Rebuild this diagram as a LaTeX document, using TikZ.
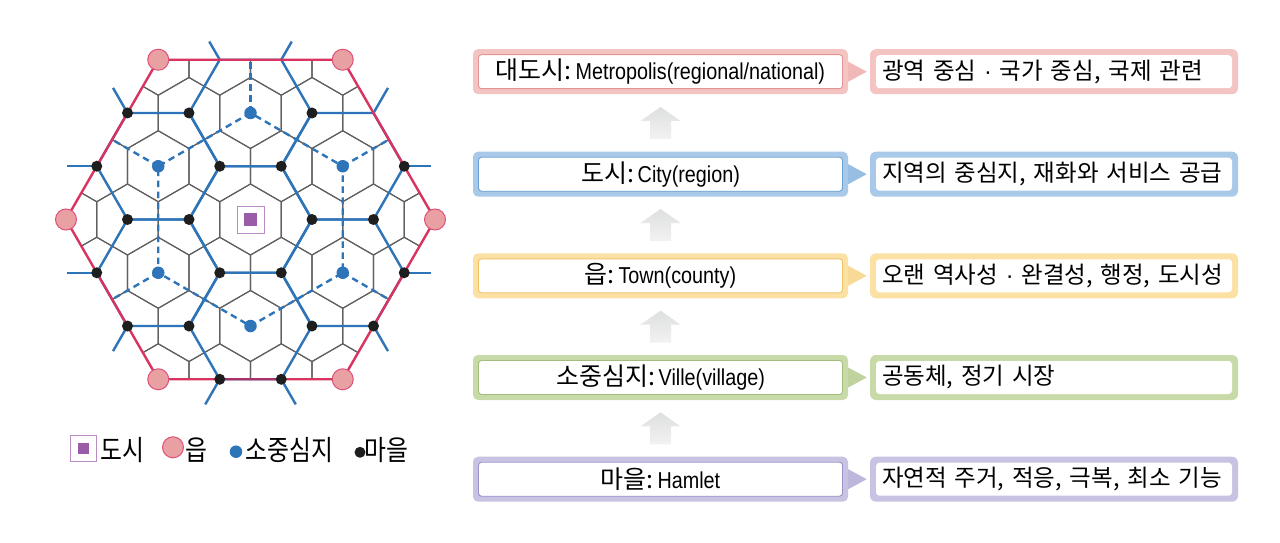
\documentclass[tikz,border=0pt]{standalone}
\usepackage{fontspec}
\setmainfont{Liberation Sans}
\newfontfamily\kr{Noto Sans CJK KR}
\newfontfamily\krr{Noto Sans CJK KR}[WordSpace=2.3]
\newfontfamily\krl{Noto Sans CJK KR}[FakeStretch=0.85]
\newfontfamily\en{Liberation Sans}[FakeStretch=0.86]
\newfontfamily\dotf{Liberation Sans}
\usetikzlibrary{calc}
\definecolor{hexred}{HTML}{D8345F}
\definecolor{hexdark}{HTML}{A8336A}
\definecolor{pinkfill}{HTML}{E9A0A3}
\definecolor{blueln}{HTML}{2E74B8}
\definecolor{greyln}{HTML}{606060}
\definecolor{dotblk}{HTML}{1E1E1E}
\definecolor{cityfill}{HTML}{9A5CA6}
\definecolor{cityframe}{HTML}{BA8EC4}
\definecolor{pkband}{HTML}{F4C4C2}
\definecolor{pkline}{HTML}{E39595}
\definecolor{blband}{HTML}{A9C9E9}
\definecolor{blline}{HTML}{6A9FD4}
\definecolor{ylband}{HTML}{FCE1A5}
\definecolor{ylline}{HTML}{F0C26A}
\definecolor{grband}{HTML}{C9DAA9}
\definecolor{grline}{HTML}{A3BD7C}
\definecolor{puband}{HTML}{C8C3E2}
\definecolor{puline}{HTML}{9B92C9}
\definecolor{arrtop}{HTML}{DEDFDF}
\definecolor{arrbot}{HTML}{F2F2F2}
\newcommand{\mdot}{{\dotf\fontsize{23.5}{27}\selectfont ·}}
\begin{document}
\begin{tikzpicture}[x=1pt,y=-1pt,
  greyline/.style={draw=greyln,line width=1.1pt,line join=round},
  blueline/.style={draw=blueln,line width=2.4pt,line join=round},
  bluedash/.style={blueline,dash pattern=on 6.5pt off 4.5pt},
  redline/.style={draw=hexred,line width=2.4pt,line join=round},
  bdot/.style={circle,fill=dotblk,minimum size=11pt,inner sep=0pt},
  udot/.style={circle,fill=blueln,minimum size=12.5pt,inner sep=0pt},
  rdot/.style={circle,fill=pinkfill,draw=hexred!85,line width=1pt,minimum size=21pt,inner sep=0pt},
  lgtext/.style={anchor=west,inner sep=0pt,font=\krl\fontsize{28}{32}\selectfont},
  lbox/.style={rectangle,rounded corners=5pt,minimum width=375pt,minimum height=45pt,inner sep=0pt,
    fill=#1band,
    path picture={\draw[#1line,line width=0.9pt,fill=white,rounded corners=3pt]
      ([shift={(5.5pt,-5.5pt)}]path picture bounding box.north west) rectangle
      ([shift={(-5.5pt,5.5pt)}]path picture bounding box.south east);}},
  rbox/.style={rectangle,rounded corners=6pt,minimum height=45pt,text width=344pt,inner xsep=12pt,inner ysep=0pt,
    align=left,fill=#1band,font=\krr\fontsize{23.5}{27}\selectfont,
    path picture={\fill[white,rounded corners=3.5pt]
      ([shift={(6pt,-6pt)}]path picture bounding box.north west) rectangle
      ([shift={(-6pt,6pt)}]path picture bounding box.south east);}},
]
\useasboundingbox (0,0) rectangle (1280,543);
\fill[white] (0,0) rectangle (1280,543);

% ---------------- hexagonal diagram ----------------
\begin{scope}[shift={(250.5,219.5)},yscale=-1]
  \coordinate (O) at (0,0);
  \foreach \a in {0,60,...,300} {\coordinate (R\a) at (\a:184.5);}
  \foreach \a in {30,90,...,330} {\coordinate (U\a) at (\a:106.52);}
  \coordinate (E1) at (153.75,53.26);
  \coordinate (E2) at (123,106.52);
  \coordinate (E3) at (30.75,159.78);
  \coordinate (E4) at (-30.75,159.78);
  \coordinate (E5) at (-123,106.52);
  \coordinate (E6) at (-153.75,53.26);
  \coordinate (E7) at (-153.75,-53.26);
  \coordinate (E8) at (-123,-106.52);
  \coordinate (E9) at (-30.75,-159.78);
  \coordinate (E10) at (30.75,-159.78);
  \coordinate (E11) at (123,-106.52);
  \coordinate (E12) at (153.75,-53.26);
  % grey market areas
  \begin{scope}
    \clip (R0) -- (R60) -- (R120) -- (R180) -- (R240) -- (R300) -- cycle;
    \foreach \i in {-4,...,4}{\foreach \j in {-4,...,4}{
      \draw[greyline] ({61.5*(\i+0.5*\j)},{53.26*\j}) +(30:35.51) -- +(90:35.51) -- +(150:35.51)
        -- +(210:35.51) -- +(270:35.51) -- +(330:35.51) -- cycle;
    }}
  \end{scope}
  % dashed
  \draw[bluedash] (U90) -- (U150) -- (U210) -- (U270) -- (U330) -- (U30) -- cycle;
  \foreach \a in {30,90,150,210,330} {\draw[bluedash] (U\a) -- (\a:159.78);}
  % blue network
  \foreach \c in {O,U30,U90,U150,U210,U270,U330} {
    \draw[blueline] (\c) +(0:61.5) -- +(60:61.5) -- +(120:61.5) -- +(180:61.5) -- +(240:61.5) -- +(300:61.5) -- cycle;
  }
  \draw[blueline] (E1) -- ++(0:27);
  \draw[blueline] (E2) -- ++(60:29);
  \draw[blueline] (E3) -- ++(60:21);
  \draw[blueline] (E4) -- ++(120:21);
  \draw[blueline] (E5) -- ++(120:29);
  \draw[blueline] (E6) -- ++(180:30);
  \draw[blueline] (E7) -- ++(180:30);
  \draw[blueline] (E8) -- ++(240:29);
  \draw[blueline] (E9) -- ++(240:29);
  \draw[blueline] (E10) -- ++(300:29);
  \draw[blueline] (E11) -- ++(300:29);
  \draw[blueline] (E12) -- ++(0:27);
  % red boundary
  \draw[redline] (R0) -- (R60) -- (R120) -- (R180) -- (R240) -- (R300) -- cycle;
  \draw[draw=hexdark,line width=2.4pt] (E9) -- (E10);
  \foreach \a in {0,60,...,300} {\node[rdot] (r\a) at (R\a) {};}
  % villages
  \foreach \a in {0,60,...,300} {
    \node[bdot] (ka\a) at (\a:61.5) {};
    \node[bdot] (kb\a) at (\a:123) {};
  }
  \foreach \e in {E1,E5,E6,E7,E8,E9,E10,E11,E12} {\node[bdot] (d\e) at (\e) {};}
  % small centres
  \foreach \a in {30,90,...,330} {\node[udot] (u\a) at (U\a) {};}
  % city
  \node[draw=cityframe,line width=1pt,minimum size=27pt,inner sep=0pt] (cityfr) at (O) {};
  \node[fill=cityfill,minimum size=12.5pt,inner sep=0pt] (city) at (O) {};
\end{scope}

% ---------------- legend ----------------
\node[draw=cityframe,line width=1pt,minimum size=26pt,inner sep=0pt] (lgfr) at (83.7,448.3) {};
\node[fill=cityfill,minimum size=11pt,inner sep=0pt] (lgcity) at (83.7,448.3) {};
\node[lgtext] (lgt1) at (100,450.3) {도시};
\node[rdot] (lgr) at (173,447.3) {};
\node[lgtext] (lgt2) at (185,450.3) {읍};
\node[udot] (lgu) at (236,451.7) {};
\node[lgtext] (lgt3) at (245.5,450.3) {소중심지};
\node[bdot] (lgb) at (360,452.3) {};
\node[lgtext] (lgt4) at (364.5,450.3) {마을};

% ---------------- hierarchy boxes ----------------
\node[lbox=pk] (L1) at (660.5,71.7) {{\kr\fontsize{25}{29}\selectfont 대도시:} {\en\fontsize{23}{27}\selectfont Metropolis(regional/national)}};
\node[lbox=bl] (L2) at (660.5,174.2) {{\kr\fontsize{25}{29}\selectfont 도시:} {\en\fontsize{23}{27}\selectfont City(region)}};
\node[lbox=yl] (L3) at (660.5,275.8) {{\kr\fontsize{25}{29}\selectfont 읍:} {\en\fontsize{23}{27}\selectfont Town(county)}};
\node[lbox=gr] (L4) at (660.5,377.5) {{\kr\fontsize{25}{29}\selectfont 소중심지:} {\en\fontsize{23}{27}\selectfont Ville(village)}};
\node[lbox=pu] (L5) at (660.5,479.2) {{\kr\fontsize{25}{29}\selectfont 마을:} {\en\fontsize{23}{27}\selectfont Hamlet}};

\node[rbox=pk] (D1) at (1054,71.7) {광역 중심 \mdot{} 국가 중심, 국제 관련};
\node[rbox=bl] (D2) at (1054,174.2) {지역의 중심지, 재화와 서비스 공급};
\node[rbox=yl] (D3) at (1054,275.8) {오랜 역사성 \mdot{} 완결성, 행정, 도시성};
\node[rbox=gr] (D4) at (1054,377.5) {공동체, 정기 시장};
\node[rbox=pu] (D5) at (1054,479.2) {자연적 주거, 적응, 극복, 최소 기능};

% pointers
\foreach \n/\c in {1/pk,2/bl,3/yl,4/gr,5/pu} {
  \fill[\c band!75!\c line] ([yshift=10pt]L\n.east) -- ([xshift=18.5pt]L\n.east) -- ([yshift=-10pt]L\n.east) -- cycle;
}
% up arrows
\foreach \lo/\hi in {2/1,3/2,4/3,5/4} {
  \coordinate (m\hi) at ($(L\lo.north)!0.5!(L\hi.south)$);
  \shade[top color=arrtop,bottom color=arrbot]
    ([shift={(0pt,16pt)}]m\hi) -- ([shift={(20pt,2pt)}]m\hi) -- ([shift={(10.5pt,2pt)}]m\hi)
    -- ([shift={(10.5pt,-16pt)}]m\hi) -- ([shift={(-10.5pt,-16pt)}]m\hi) -- ([shift={(-10.5pt,2pt)}]m\hi)
    -- ([shift={(-20pt,2pt)}]m\hi) -- cycle;
}
\end{tikzpicture}
\end{document}
